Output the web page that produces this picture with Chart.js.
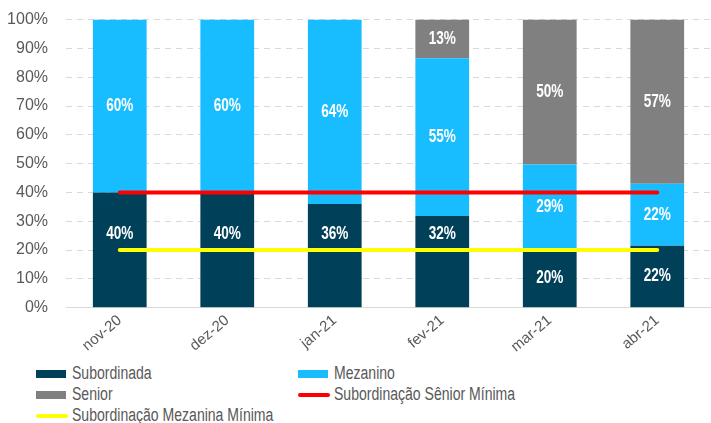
<!DOCTYPE html>
<html>
<head>
<meta charset="utf-8">
<script src="https://cdn.jsdelivr.net/npm/chart.js@4.4.1/dist/chart.umd.min.js"></script>
<style>
  html, body { margin: 0; padding: 0; background: #fff; overflow: hidden; }
  #wrap { position: relative; width: 711px; height: 368px; margin-top: -8px; }
  #legend {
    display: grid;
    grid-template-columns: 262px 380px;
    grid-auto-rows: 21px;
    margin-left: 36px;
    margin-top: 3px;
    font-family: 'Liberation Sans', Arial, sans-serif;
    font-size: 18px;
    color: #595959;
  }
  .item { display: flex; align-items: center; white-space: nowrap; }
  .item span.t { display: inline-block; transform: scaleX(0.78); transform-origin: left center; }
  .sw { width: 30px; height: 8px; margin-right: 6px; flex: none; }
  .ln { width: 32px; height: 4px; border-radius: 2px; margin-right: 4px; flex: none; }
</style>
</head>
<body>
<div id="wrap"><canvas id="chart"></canvas></div>
<div id="legend"></div>
<script>
// chart data (percentages)
const months = ['nov-20', 'dez-20', 'jan-21', 'fev-21', 'mar-21', 'abr-21'];
const subordinada = [40, 40, 36, 31.8, 20.4, 21.5];
const mezanino = [60, 60, 64, 54.8, 29.3, 21.5];
const senior = [0, 0, 0, 13.4, 50.3, 57];
const minSenior = [40, 40, 40, 40, 40, 40];
const minMezanino = [20, 20, 20, 20, 20, 20];
const yTicks = [0, 10, 20, 30, 40, 50, 60, 70, 80, 90, 100];

const FONT = "'Liberation Sans', Arial, sans-serif";

// draw the value labels in the middle of each bar segment
const segmentLabels = {
    id: 'segmentLabels',
    afterDatasetsDraw(chart) {
        const ctx = chart.ctx;
        const y = chart.scales.y;
        const linePx = y.getPixelForValue(minMezanino[0]);
        ctx.save();
        ctx.font = 'bold 16px ' + FONT;
        ctx.fillStyle = '#ffffff';
        ctx.textAlign = 'center';
        ctx.textBaseline = 'middle';
        chart.data.datasets.forEach((ds, di) => {
            if (ds.type === 'line') return;
            const meta = chart.getDatasetMeta(di);
            meta.data.forEach((bar, i) => {
                const v = ds.data[i];
                if (!v) return;
                let cy = (bar.y + bar.base) / 2;
                // keep label clear of the yellow line
                if (Math.abs(cy - linePx) < 14 && bar.base > linePx) {
                    cy = linePx - 16;
                }
                // slightly condensed like the original
                ctx.save();
                ctx.translate(bar.x, cy);
                ctx.scale(0.85, 1.1);
                ctx.fillText(Math.round(v) + '%', 0, 0);
                ctx.restore();
            });
        });
        ctx.restore();
    }
};

const chart = new Chart(document.getElementById('chart'), {
    type: 'bar',
    data: {
        labels: months,
        datasets: [
            { label: 'Subordinada', data: subordinada, backgroundColor: '#004159', stack: 'bars', order: 2 },
            { label: 'Mezanino', data: mezanino, backgroundColor: '#17BDFF', stack: 'bars', order: 2 },
            { label: 'Senior', data: senior, backgroundColor: '#808080', stack: 'bars', order: 2 },
            { type: 'line', label: 'Subordinação Sênior Mínima', data: minSenior, borderColor: '#FF0000',
              borderWidth: 4, pointRadius: 0, stack: 'red', order: 1, borderCapStyle: 'round' },
            { type: 'line', label: 'Subordinação Mezanina Mínima', data: minMezanino, borderColor: '#FFFF00',
              borderWidth: 4, pointRadius: 0, stack: 'yellow', order: 1, borderCapStyle: 'round' }
        ]
    },
    options: {
        responsive: true,
        maintainAspectRatio: false,
        animation: false,
        layout: { padding: { top: 0, right: 0, left: 0, bottom: 0 } },
        plugins: {
            legend: { display: false },
            tooltip: { enabled: false }
        },
        datasets: {
            bar: { categoryPercentage: 1, barPercentage: 0.5 }
        },
        scales: {
            x: {
                stacked: true,
                grid: { display: false, drawTicks: false },
                border: { color: '#d9d9d9', width: 1 },
                ticks: {
                    color: '#595959',
                    font: { family: FONT, size: 15 },
                    minRotation: 40,
                    maxRotation: 40,
                    padding: 4
                }
            },
            y: {
                stacked: true,
                min: 0,
                max: 100,
                afterBuildTicks(scale) {
                    scale.ticks = yTicks.map(v => ({ value: v }));
                },
                afterFit(scale) { scale.width = 66; },
                grid: { color: '#d9d9d9', drawTicks: false, lineWidth: 1 },
                border: { display: false, dash: [6, 5] },
                ticks: {
                    color: '#595959',
                    font: { family: FONT, size: 16 },
                    padding: 18,
                    callback: v => v + '%'
                }
            }
        }
    },
    plugins: [segmentLabels]
});

// html legend in two columns, built from the datasets
const legend = document.getElementById('legend');
chart.data.datasets.forEach(ds => {
    const item = document.createElement('div');
    item.className = 'item';
    const mark = document.createElement('span');
    if (ds.type === 'line') {
        mark.className = 'ln';
        mark.style.background = ds.borderColor;
    } else {
        mark.className = 'sw';
        mark.style.background = ds.backgroundColor;
    }
    const text = document.createElement('span');
    text.className = 't';
    text.textContent = ds.label;
    item.appendChild(mark);
    item.appendChild(text);
    legend.appendChild(item);
});
</script>
</body>
</html>
